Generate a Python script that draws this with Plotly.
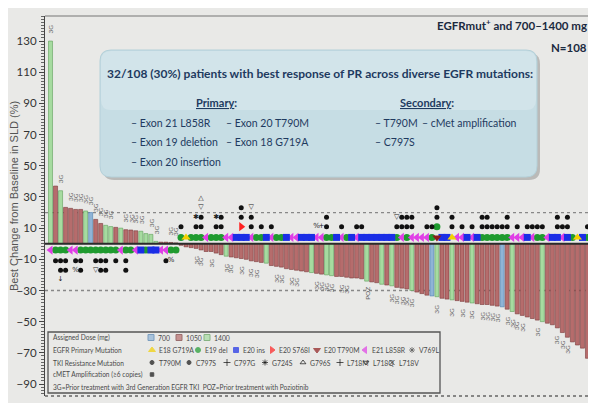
import plotly.graph_objects as go

# ---------------- data ----------------
values = [130, 37, 34, 23.3, 22.7, 22, 22, 21, 20, 15.6,
          13, 11.8, 11, 10.5, 10, 9, 8.8, 8.3, 8, 6.5,
          6, 1.5, 1, 1, 0.8, 0.5,
          -1, -2, -2.5, -3, -4, -5, -5, -6, -7, -8,
          -8.5, -9, -9.5, -10, -11, -11.5, -12, -12.5, -14, -14.5,
          -15, -16, -16.5, -17, -17.5, -18, -18.5, -19, -19.5, -20,
          -20.5, -21, -21, -21.5, -22, -22, -22.5, -24, -24.5, -25,
          -26, -26.5, -27, -28, -28.5, -29, -30, -31, -32, -33,
          -33.5, -34, -35, -35.5, -36, -36.5, -37, -37.5, -38, -38.5,
          -39, -39, -39.5, -40, -40.5, -42, -43.5, -45, -46, -47,
          -48, -49, -50, -51, -52, -54, -57, -60, -63, -65,
          -67, -73.5]

# assigned dose per patient: B=700, R=1050, G=1400
dose_codes = ("GRGRRRRGBRRGGRGRRRGGGGRRRR"
              "RRRRRRRRRGRRRRRRRGRRRRRRRR"
              "GRRGGRRRRRRGRRGRGRRRGRRRBG"
              "RRGRRRGRRRRRBRGRRRRRGRRRRRRRRR")

# EGFR primary mutation: G=E19 del, L=E21 L858R, I=E20 ins, A=E18 G719A, T=E20 T790M
primary_codes = ("LGGGLLGGGGGGGGLGGLIGIILLGG"
                 "GAGGGLGGGLLIIILGGILGGILLII"
                 "ILLGGILGILIIIIIIIGLGLLLLGT"
                 "IIALLILIGGGGGGLLLILGGLIILIGAIG")

# number of TKI resistance (T790M / C797S) dots per patient
tki_counts = ("01220120012201020000000100"
              "10012001200020201010000000"
              "00020010011000000122200112"
              "002010102211120101111002120001")
tki_start_row = {38: 2, 77: 2}

# extra stacked marks: (patient, row, glyph)
extra_glyphs = [(2, 3, "↓"), (5, 2, "%"), (9, 2, "▽"), (24, 1, "%"),
                (29, 2, "✱"), (30, 3, "▽"), (30, 4, "△"), (33, 2, "✱"),
                (40, 3, "▽"), (53, 1, "%"), (54, 1, "+"), (69, 2, "▽")]
extra_symbols = [(38, 1, "S"), (77, 1, "G")]

label_3g = [0, 2, 4, 5, 6, 7, 8, 9, 10, 11, 12, 15, 16, 17, 18, 20, 21, 24, 25,
            29, 30, 32, 35, 36, 38, 40, 41, 45, 46, 48, 49, 53, 54, 55, 56, 58, 59,
            68, 69, 70, 71, 72, 77, 80, 82, 84, 86, 87, 88, 89, 91, 92, 93, 94, 97,
            101, 102, 103]
label_poz = [63]

y_ticks = [130, 110, 90, 70, 50, 30, 10, -10, -30, -50, -70, -90]
ref_lines = [20, -30]

# ---------------- styles ----------------
FN = "Lato, Roboto, sans-serif"
FS = "Liberation Sans, Arial, sans-serif"
BG = "#e9e9e7"
W, H = 596, 403
OFF = 8                      # page body offset of the figure in the window
PL, PR, PT, PB = 45, 592, 16, 396   # plot area in window pixels
ML, MR, MT, MB = PL - OFF, W - (PR - OFF), PT - OFF, H - (PB - OFF)
YR = [-97.7, 146.1]
XR = [-1.1, 107.9]
PXU = (PB - PT) / (YR[1] - YR[0])

dose_fill = {"B": "#8fb4d6", "R": "#b66c6c", "G": "#a6dba0"}
dose_line = {"B": "#4d7fb0", "R": "#7b3b3b", "G": "#5f9f5a"}
prim_style = {
    "G": ("circle", "#1f9b2f", 7),
    "L": ("triangle-left", "#e03fe6", 8),
    "I": ("square", "#1a2ee6", 7),
    "A": ("triangle-up", "#f2d000", 8),
    "T": ("triangle-down", "#8e1b1b", 8),
    "S": ("triangle-right", "#ff2020", 8),
}

n = len(values)
xs = list(range(n))


def row_y(i, k):
    d = -1 if values[i] >= 0 else 1
    off = 6.3 if k == 0 else 17 + 9.5 * (k - 1)
    return d * off / PXU


fig = go.Figure()

fig.add_trace(go.Bar(
    x=xs, y=values, width=0.8,
    marker=dict(color=[dose_fill[c] for c in dose_codes],
                line=dict(color=[dose_line[c] for c in dose_codes], width=0.6)),
    showlegend=False, hoverinfo="skip"))

for code, (sym, col, sz) in prim_style.items():
    px_ = [i for i in xs if primary_codes[i] == code]
    py_ = [row_y(i, 0) for i in px_]
    for (i, k, c) in extra_symbols:
        if c == code:
            px_.append(i)
            py_.append(row_y(i, k))
    if not px_:
        continue
    fig.add_trace(go.Scatter(x=px_, y=py_, mode="markers",
                             marker=dict(symbol=sym, color=col, size=sz, line=dict(width=0)),
                             showlegend=False, hoverinfo="skip", cliponaxis=False))

dx, dy = [], []
for i in xs:
    c = int(tki_counts[i])
    s = tki_start_row.get(i, 1)
    for k in range(s, s + c):
        dx.append(i)
        dy.append(row_y(i, k))
fig.add_trace(go.Scatter(x=dx, y=dy, mode="markers",
                         marker=dict(symbol="circle", color="#111", size=5),
                         showlegend=False, hoverinfo="skip"))

fig.add_trace(go.Scatter(x=[g[0] for g in extra_glyphs],
                         y=[row_y(g[0], g[1]) for g in extra_glyphs],
                         mode="text", text=[g[2] for g in extra_glyphs],
                         textfont=dict(size=7, color="#222", family="DejaVu Sans"),
                         showlegend=False, hoverinfo="skip"))

annotations = []
for i in label_3g:
    up = values[i] >= 0
    annotations.append(dict(x=i, y=values[i], xref="x", yref="y", text="3G",
                            showarrow=False, textangle=-90,
                            yshift=12 if up else -12,
                            font=dict(size=6.5, color="#666", family=FN)))
for i in label_poz:
    annotations.append(dict(x=i, y=values[i], xref="x", yref="y", text="POZ",
                            showarrow=False, textangle=-90, yshift=-12,
                            font=dict(size=6.5, color="#666", family=FN)))

shapes = []
for v in ref_lines:
    shapes.append(dict(type="line", xref="paper", yref="y", x0=0, x1=1, y0=v, y1=v,
                       line=dict(color="#888", width=1.3, dash="dot"), layer="below"))
shapes.append(dict(type="line", xref="paper", yref="y", x0=0, x1=1, y0=0, y1=0,
                   line=dict(color="#2b2b2b", width=2), layer="above"))
shapes.append(dict(type="line", xref="paper", yref="paper", x0=0, x1=1, y0=1, y1=1,
                   line=dict(color="#777", width=1.2)))
shapes.append(dict(type="line", xref="paper", yref="paper", x0=1, x1=1, y0=0, y1=1,
                   line=dict(color="#888", width=1)))
shapes.append(dict(type="line", xref="paper", yref="paper", x0=0, x1=1, y0=0, y1=0,
                   line=dict(color="#666", width=1.5, dash="dot")))


def rrect(x0, y0, x1, y1, r):
    return (f"M{x0+r},{y0} L{x1-r},{y0} Q{x1},{y0} {x1},{y0+r} L{x1},{y1-r} "
            f"Q{x1},{y1} {x1-r},{y1} L{x0+r},{y1} Q{x0},{y1} {x0},{y1-r} "
            f"L{x0},{y0+r} Q{x0},{y0} {x0+r},{y0} Z")


bx0, by0, bx1, by1 = 100, 50, 537, 177
shapes.append(dict(type="path", xref="x2", yref="y2", path=rrect(bx0 + 3, by0 + 3, bx1 + 3, by1 + 3, 11),
                   fillcolor="rgba(0,0,0,0.2)", line=dict(width=0), layer="above"))
shapes.append(dict(type="path", xref="x2", yref="y2", path=rrect(bx0, by0, bx1, by1, 11),
                   fillcolor="#c6dde4", line=dict(color="#b4d0d9", width=1), layer="above"))
shapes.append(dict(type="path", xref="x2", yref="y2", path=rrect(bx0 + 1, by0 + 1, bx1 - 1, by0 + 60, 10),
                   fillcolor="rgba(255,255,255,0.22)", line=dict(width=0), layer="above"))

NAVY = "#1e3a5f"
box_text = [
    (320, 73, "<b>32/108 (30%) patients with best response of PR across diverse EGFR mutations:</b>", 12, "center"),
    (216, 102, "<b><u>Primary</u>:</b>", 11, "center"),
    (427, 102, "<b><u>Secondary</u>:</b>", 11, "center"),
    (129, 123, "– Exon 21 L858R", 10.5, "left"),
    (129, 142, "– Exon 19 deletion", 10.5, "left"),
    (129, 162, "– Exon 20 insertion", 10.5, "left"),
    (224, 123, "– Exon 20 T790M", 10.5, "left"),
    (224, 142, "– Exon 18 G719A", 10.5, "left"),
    (373, 123, "– T790M", 10.5, "left"),
    (420, 123, "– cMet amplification", 10.5, "left"),
    (373, 142, "– C797S", 10.5, "left"),
]
for (x, y, t, s, a) in box_text:
    annotations.append(dict(x=x, y=y, xref="x2", yref="y2", text=t, showarrow=False,
                            xanchor=a, yanchor="middle", font=dict(size=s, color=NAVY, family=FN)))

annotations.append(dict(x=589, y=24, xref="x2", yref="y2", text="<b>EGFRmut<sup>+</sup> and 700–1400 mg</b>",
                        showarrow=False, xanchor="right", yanchor="middle",
                        font=dict(size=11.5, color="#1b2a40", family=FN)))
annotations.append(dict(x=589, y=47, xref="x2", yref="y2", text="<b>N=108</b>",
                        showarrow=False, xanchor="right", yanchor="middle",
                        font=dict(size=11.5, color="#1b2a40", family=FN)))

annotations.append(dict(x=(14 - PL) / (PR - PL), y=(PB - 196) / (PB - PT), xref="paper", yref="paper",
                        text="Best Change from Baseline in SLD (%)",
                        showarrow=False, textangle=-90, xanchor="center", yanchor="middle",
                        font=dict(size=11, color="#555", family=FS)))

# ---------------- legend box ----------------
shapes.append(dict(type="rect", xref="x2", yref="y2", x0=48, y0=332, x1=440, y1=393,
                   line=dict(color="#555", width=1.3), fillcolor="rgba(0,0,0,0)", layer="above"))
LG = "#4a4a4a"
rows_y = [337.5, 350, 362.5, 374.5, 386.5]
row_titles = ["Assigned Dose (mg)", "EGFR Primary Mutation", "TKI Resistance Mutation",
              "cMET Amplification (≥6 copies)",
              "3G=Prior treatment with 3rd Generation EGFR TKI  POZ=Prior treatment with Poziotinib"]
for y, t in zip(rows_y, row_titles):
    annotations.append(dict(x=51, y=y, xref="x2", yref="y2", text=t, showarrow=False,
                            xanchor="left", yanchor="middle", font=dict(size=6.6, color=LG, family=FN)))

legend_items = [
    (151, 0, "square", dose_fill["B"], 6, "700", dose_line["B"]),
    (179, 0, "square", dose_fill["R"], 6, "1050", dose_line["R"]),
    (207, 0, "square", dose_fill["G"], 6, "1400", dose_line["G"]),
    (152, 1, "triangle-up", "#f2d000", 6, "E18 G719A", None),
    (198, 1, "circle", "#1f9b2f", 5, "E19 del", None),
    (236, 1, "square", "#1a2ee6", 5, "E20 ins", None),
    (272, 1, "triangle-right", "#ff2020", 6, "E20 S768I", None),
    (317, 1, "triangle-down", "#8e1b1b", 6, "E20 T790M", None),
    (365, 1, "triangle-left", "#e03fe6", 6, "E21 L858R", None),
    (412, 1, "asterisk-open", "#555", 5, "V769L", None),
    (152, 2, "circle", "#111", 4, "T790M", None),
    (189, 2, "circle", "#111", 4, "C797S", None),
    (227, 2, "cross-thin-open", "#111", 5, "C797G", None),
    (265, 2, "asterisk-open", "#111", 5, "G724S", None),
    (303, 2, "triangle-up-open", "#111", 5, "G796S", None),
    (340, 2, "cross-thin-open", "#111", 5, "L718M", None),
    (366, 2, "triangle-down-open", "#111", 5, "L718Q", None),
    (392, 2, "x-thin-open", "#111", 5, "L718V", None),
    (152, 3, "square", "#111", 3.5, "", None),
]
fig.add_trace(go.Scatter(
    x=[it[0] for it in legend_items], y=[rows_y[it[1]] for it in legend_items],
    xaxis="x2", yaxis="y2", mode="markers",
    marker=dict(symbol=[it[2] for it in legend_items], color=[it[3] for it in legend_items],
                size=[it[4] for it in legend_items],
                line=dict(color=[it[6] or it[3] for it in legend_items], width=1)),
    showlegend=False, hoverinfo="skip"))
for it in legend_items:
    if it[5]:
        annotations.append(dict(x=it[0] + 4.5, y=rows_y[it[1]], xref="x2", yref="y2", text=it[5],
                                showarrow=False, xanchor="left", yanchor="middle",
                                font=dict(size=6.8, color=LG, family=FN)))

fig.update_layout(
    width=W, height=H,
    margin=dict(l=ML, r=MR, t=MT, b=MB, autoexpand=False),
    paper_bgcolor=BG, plot_bgcolor=BG,
    showlegend=False, bargap=0.2,
    xaxis=dict(range=XR, visible=False, fixedrange=True),
    yaxis=dict(range=YR, tickmode="linear", tick0=10, dtick=20, ticks="outside", ticklen=5,
               tickwidth=1, tickcolor="#444", showline=True, linecolor="#444", linewidth=1.2,
               showgrid=False, zeroline=False,
               tickfont=dict(size=11.5, color="#333", family=FN),
               minor=dict(tickmode="linear", tick0=0, dtick=2, ticks="outside", ticklen=2.5,
                          tickcolor="#666", showgrid=False)),
    xaxis2=dict(range=[PL, PR], overlaying="x", visible=False, fixedrange=True),
    yaxis2=dict(range=[PB, PT], overlaying="y", visible=False, fixedrange=True),
    shapes=shapes, annotations=annotations,
)

fig.write_html("out.html")
